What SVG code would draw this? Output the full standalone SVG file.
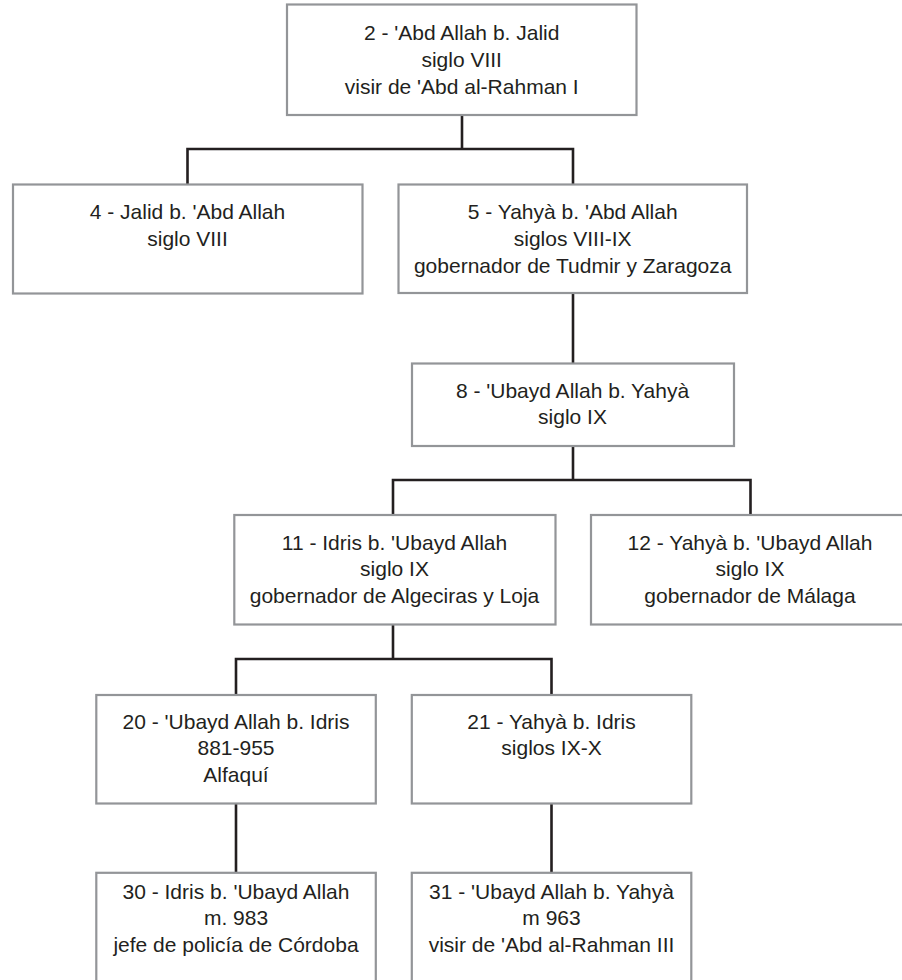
<svg xmlns="http://www.w3.org/2000/svg" width="902" height="980" viewBox="0 0 902 980">
  <style>
    .box { fill: #ffffff; stroke: #939598; stroke-width: 2.2; }
    .link { fill: none; stroke: #231f20; stroke-width: 2.6; stroke-linecap: square; }
    text { font-family: "Liberation Sans", Arial, sans-serif; font-size: 21px; fill: #231f20; text-anchor: middle; }
  </style>
  <rect width="902" height="980" fill="#ffffff"/>

  <g id="connectors">
    <path class="link" d="M462,115 V149 M187.5,149 H573 M187.5,149 V184 M573,149 V184"/>
    <path class="link" d="M573,293 V363"/>
    <path class="link" d="M573,446 V480 M393,480 H750.5 M393,480 V515 M750.5,480 V515"/>
    <path class="link" d="M393,624 V659 M236,659 H551.5 M236,659 V695 M551.5,659 V695"/>
    <path class="link" d="M236,803.5 V872.5 M551.5,803.5 V872.5"/>
  </g>

  <g id="node-2">
    <rect class="box" x="287" y="4.5" width="349.5" height="110.5"/>
    <text x="461.7" y="39.5">2 - 'Abd Allah b. Jalid</text>
    <text x="461.7" y="66.5">siglo VIII</text>
    <text x="461.7" y="93.5">visir de 'Abd al-Rahman I</text>
  </g>

  <g id="node-4">
    <rect class="box" x="13" y="184.5" width="349.5" height="109"/>
    <text x="187.5" y="218.5">4 - Jalid b. 'Abd Allah</text>
    <text x="187.5" y="245.5">siglo VIII</text>
  </g>

  <g id="node-5">
    <rect class="box" x="398.5" y="184.5" width="348.5" height="108.5"/>
    <text x="572.7" y="218.5">5 - Yahyà b. 'Abd Allah</text>
    <text x="572.7" y="245.5">siglos VIII-IX</text>
    <text x="572.7" y="272.5">gobernador de Tudmir y Zaragoza</text>
  </g>

  <g id="node-8">
    <rect class="box" x="412" y="363.5" width="322" height="82.5"/>
    <text x="572.5" y="397.5">8 - 'Ubayd Allah b. Yahyà</text>
    <text x="572.5" y="424">siglo IX</text>
  </g>

  <g id="node-11">
    <rect class="box" x="234.3" y="515" width="321.2" height="109.5"/>
    <text x="394.5" y="549.5">11 - Idris b. 'Ubayd Allah</text>
    <text x="394.5" y="576">siglo IX</text>
    <text x="394.5" y="602.5">gobernador de Algeciras y Loja</text>
  </g>

  <g id="node-12">
    <rect class="box" x="591" y="515" width="320" height="109.5"/>
    <text x="750" y="549.5">12 - Yahyà b. 'Ubayd Allah</text>
    <text x="750" y="576">siglo IX</text>
    <text x="750" y="602.5">gobernador de Málaga</text>
  </g>

  <g id="node-20">
    <rect class="box" x="96.3" y="695" width="279.5" height="108.5"/>
    <text x="236" y="728.5">20 - 'Ubayd Allah b. Idris</text>
    <text x="236" y="755">881-955</text>
    <text x="236" y="781.5">Alfaquí</text>
  </g>

  <g id="node-21">
    <rect class="box" x="411.8" y="695" width="279.5" height="108.5"/>
    <text x="551.5" y="728.5">21 - Yahyà b. Idris</text>
    <text x="551.5" y="755">siglos IX-X</text>
  </g>

  <g id="node-30">
    <rect class="box" x="96.3" y="872.8" width="279.5" height="115"/>
    <text x="236" y="898.5">30 - Idris b. 'Ubayd Allah</text>
    <text x="236" y="925">m. 983</text>
    <text x="236" y="951.5">jefe de policía de Córdoba</text>
  </g>

  <g id="node-31">
    <rect class="box" x="411.8" y="872.8" width="279.5" height="115"/>
    <text x="551.5" y="898.5">31 - 'Ubayd Allah b. Yahyà</text>
    <text x="551.5" y="925">m 963</text>
    <text x="551.5" y="951.5">visir de 'Abd al-Rahman III</text>
  </g>
</svg>
